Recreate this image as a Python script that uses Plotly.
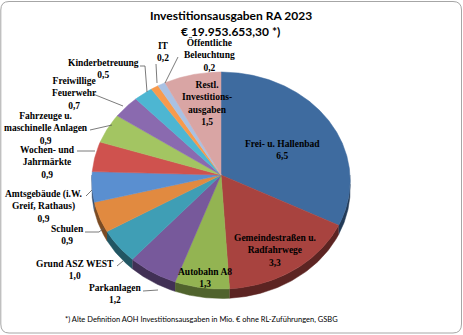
import numpy as np
import plotly.graph_objects as go

# --- data -------------------------------------------------------------
categories = [
    "Frei- u. Hallenbad", "Gemeindestraßen u. Radfahrwege", "Autobahn A8",
    "Parkanlagen", "Grund ASZ WEST", "Schulen", "Amtsgebäude (i.W. Greif, Rathaus)",
    "Wochen- und Jahrmärkte", "Fahrzeuge u. maschinelle Anlagen",
    "Freiwillige Feuerwehr", "Kinderbetreuung", "IT", "Öffentliche Beleuchtung",
    "Restl. Investitionsausgaben",
]
values = [6.5, 3.3, 1.3, 1.2, 1.0, 0.9, 0.9, 0.9, 0.9, 0.7, 0.5, 0.2, 0.2, 1.5]
label_texts = [
    "Frei- u. Hallenbad<br>6,5", "Gemeindestraßen u.<br>Radfahrwege<br>3,3",
    "Autobahn A8<br>1,3", "Parkanlagen<br>1,2", "Grund ASZ WEST<br>1,0",
    "Schulen<br>0,9", "Amtsgebäude (i.W.<br>Greif, Rathaus)<br>0,9",
    "Wochen- und<br>Jahrmärkte<br>0,9", "Fahrzeuge u.<br>maschinelle Anlagen<br>0,9",
    "Freiwillige<br>Feuerwehr<br>0,7", "Kinderbetreuung<br>0,5", "IT<br>0,2",
    "Öffentliche<br>Beleuchtung<br>0,2", "Restl.<br>Investitions-<br>ausgaben<br>1,5",
]
title_lines = ["Investitionsausgaben RA 2023", "€ 19.953.653,30 *)"]
footnote = "*) Alte Definition AOH Investitionsausgaben in Mio. € ohne RL-Zuführungen, GSBG"

colors = ["#3E6B9F", "#A8433F", "#93B452", "#77599B", "#3F9EB5", "#E18A40",
          "#5A8FD0", "#CF524E", "#A3C562", "#8A6AAF", "#4DB6D2", "#F89A4C",
          "#A9C1E3", "#D9A5A4"]

# --- geometry of the tilted pie -----------------------------------------
W, H = 463, 335
cx, cy = 221.0, 175.0      # apex of the slices
rx, ry = 129.0, 108.2      # radii of the disc
persp = 0.0507             # perspective strength (front larger than back)
depth = 9.0                # thickness of the disc


def proj(theta, drop=0.0):
    """theta in radians, clockwise from 12 o'clock."""
    X = np.sin(theta)
    Z = -np.cos(theta)
    s = 1.0 / (1.0 - persp * Z)
    return cx + rx * X * s, cy + ry * Z * s + drop * s


def darker(hex_color, f=0.55):
    h = hex_color.lstrip("#")
    r, g, b = (int(h[i:i + 2], 16) for i in (0, 2, 4))
    return "rgb({},{},{})".format(int(r * f), int(g * f), int(b * f))


total = sum(values)
edges = np.concatenate([[0.0], np.cumsum(values)]) / total * 2 * np.pi

fig = go.Figure()

# side walls (only the front half of the rim is visible)
for i in range(len(values)):
    a0 = max(edges[i], np.pi / 2)
    a1 = min(edges[i + 1], 3 * np.pi / 2)
    if a1 <= a0:
        continue
    t = np.linspace(a0, a1, 60)
    xt, yt = proj(t)
    xb, yb = proj(t[::-1], depth)
    fig.add_trace(go.Scatter(
        x=np.concatenate([xt, xb]), y=np.concatenate([yt, yb]),
        fill="toself", fillcolor=darker(colors[i]), mode="lines",
        line=dict(width=0.5, color=darker(colors[i])), hoverinfo="skip",
        showlegend=False))

# top faces of the slices
for i in range(len(values)):
    t = np.linspace(edges[i], edges[i + 1], max(4, int(values[i] * 40)))
    xs, ys = proj(t)
    fig.add_trace(go.Scatter(
        x=np.concatenate([[cx], xs, [cx]]), y=np.concatenate([[cy], ys, [cy]]),
        fill="toself", fillcolor=colors[i], mode="lines",
        line=dict(width=0.5, color=colors[i]), name=categories[i],
        hoverinfo="name", showlegend=False))

# leader lines for the outside labels
leaders = [
    [(143, 291), (158, 290)],
    [(117, 266), (123, 261)],
    [(85, 232), (99, 232), (104, 228)],
    [(86, 196), (92, 190)],
    [(77, 151), (95, 151)],
    [(90, 130), (112, 125)],
    [(93, 94), (123, 106)],
    [(140, 66), (145, 66), (147, 92)],
    [(156, 64), (157, 83)],
    [(178, 57), (165, 83)],
]
for pts in leaders:
    fig.add_trace(go.Scatter(
        x=[p[0] for p in pts], y=[p[1] for p in pts], mode="lines",
        line=dict(width=0.8, color="#595959"), hoverinfo="skip", showlegend=False))

label_pos = [(282, 150), (275, 250), (205, 278), (115, 294), (75, 270), (67, 235),
             (43, 206), (47, 162), (46, 128), (74, 93), (103, 69), (163, 52),
             (209, 54), (207, 103)]
annotations = []
for txt, (x, y) in zip(label_texts, label_pos):
    annotations.append(dict(
        x=x, y=y, xref="x", yref="y", text="<b>" + txt + "</b>", showarrow=False,
        xanchor="center", yanchor="middle", align="center",
        font=dict(family="Liberation Serif", size=9.5, color="black")))

annotations.append(dict(x=231, y=15, xref="x", yref="y", text="<b>" + title_lines[0] + "</b>",
                        showarrow=False, font=dict(family="Lato", size=12, color="black")))
annotations.append(dict(x=230, y=31, xref="x", yref="y", text="<b>" + title_lines[1] + "</b>",
                        showarrow=False, font=dict(family="Lato", size=12, color="black")))
annotations.append(dict(x=201, y=319, xref="x", yref="y", text=footnote,
                        showarrow=False, font=dict(family="Lato", size=7.5, color="black")))

fig.update_layout(
    width=W, height=H, margin=dict(l=0, r=0, t=0, b=0),
    paper_bgcolor="white", plot_bgcolor="white",
    xaxis=dict(range=[0, W], visible=False, fixedrange=True),
    yaxis=dict(range=[H, 0], visible=False, fixedrange=True),
    annotations=annotations,
    shapes=[dict(type="path", xref="x", yref="y",
                 path="M 9,1.5 L 453,1.5 Q 461.5,1.5 461.5,10 L 461.5,324 Q 461.5,333 453,333 "
                      "L 9,333 Q 0.8,333 0.8,324 L 0.8,10 Q 0.8,1.5 9,1.5 Z",
                 line=dict(color="#A6A6A6", width=1))],
)

fig.write_html("out.html")
